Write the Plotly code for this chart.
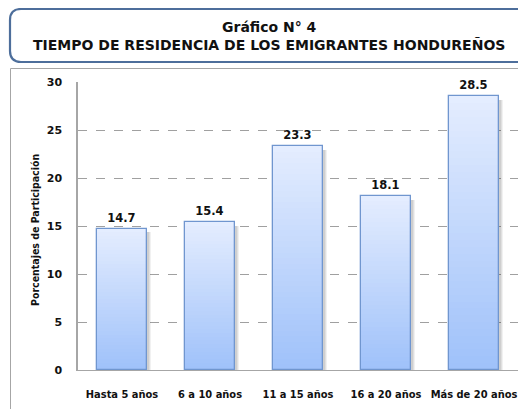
import plotly.graph_objects as go

categories = ["Hasta 5 años", "6 a 10 años", "11 a 15 años", "16 a 20 años", "Más de 20 años"]
values = [14.7, 15.4, 23.3, 18.1, 28.5]
value_labels = ["14.7", "15.4", "23.3", "18.1", "28.5"]
y_ticks = [0, 5, 10, 15, 20, 25, 30]

# page body has an 8px margin, so the figure is drawn 8px smaller
W, H = 518, 401
ML, MR, MT, MB = 70, 8, 74, 39
PW, PH = W - ML - MR, H - MT - MB

def px2x(p):
    return (p - ML) / PW

def px2y(p):
    return (H - MB - p) / PH

BW = 0.57
fig = go.Figure()

# soft shadow
for dx, a in [(0.05, 0.07), (0.035, 0.09), (0.02, 0.1)]:
    fig.add_trace(go.Bar(
        x=categories, y=[v - 0.35 for v in values], width=BW, offset=-BW / 2 + dx,
        marker=dict(color="rgba(60,60,60,%s)" % a, line=dict(width=0)),
        hoverinfo="skip", showlegend=False))

# gradient via overlay layers (light at top, darker at bottom)
top = (228, 237, 255)
bot = (160, 194, 250)
N = 40
for k in range(N):
    frac = 1 - k / N
    t = k / (N - 1)
    c = tuple(int(top[i] + (bot[i] - top[i]) * t) for i in range(3))
    fig.add_trace(go.Bar(
        x=categories, y=[v * frac for v in values], width=BW, offset=-BW / 2,
        marker=dict(color="rgb(%d,%d,%d)" % c, line=dict(width=0)),
        hoverinfo="skip", showlegend=False))

# outline + labels
fig.add_trace(go.Bar(
    x=categories, y=values, width=BW, offset=-BW / 2,
    marker=dict(color="rgba(0,0,0,0)", line=dict(color="#7096cf", width=1.3)),
    text=value_labels, textposition="outside", cliponaxis=False,
    textfont=dict(family="DejaVu Sans", size=11.5, color="#111111", weight="bold"),
    showlegend=False))

# rounded title box
x0, x1 = px2x(2), px2x(540)
y0, y1 = px2y(1), px2y(54)
rx, ry = 11 / PW, 11 / PH
path = (f"M {x0+rx},{y0} L {x1},{y0} L {x1},{y1} L {x0+rx},{y1} "
        f"Q {x0},{y1} {x0},{y1+ry} L {x0},{y0-ry} Q {x0},{y0} {x0+rx},{y0} Z")

fig.update_layout(
    width=W, height=H,
    margin=dict(l=ML, r=MR, t=MT, b=MB),
    paper_bgcolor="white", plot_bgcolor="white",
    barmode="overlay", bargap=0,
    font=dict(family="DejaVu Sans", color="#111111"),
    shapes=[
        dict(type="path", xref="paper", yref="paper", path=path,
             line=dict(color="#4d6e9b", width=2.2), fillcolor="white", layer="below"),
        dict(type="rect", xref="paper", yref="paper",
             x0=px2x(2.5), x1=px2x(560), y0=px2y(60.5), y1=px2y(430),
             line=dict(color="#a6a6a6", width=1), layer="below"),
    ],
    annotations=[
        dict(text="<b>Gráfico N° 4</b><br><b>TIEMPO DE RESIDENCIA DE LOS EMIGRANTES HONDUREÑOS</b>",
             xref="paper", yref="paper", x=px2x(261), y=px2y(28),
             xanchor="center", yanchor="middle", showarrow=False,
             font=dict(family="DejaVu Sans", size=14, color="#111111")),
        dict(text="<b>Porcentajes de Participación</b>", textangle=-90,
             xref="paper", yref="paper", x=px2x(27), y=px2y(222),
             xanchor="center", yanchor="middle", showarrow=False,
             font=dict(family="DejaVu Sans Condensed", size=10.5, color="#111111")),
    ],
    xaxis=dict(showgrid=False, showline=True, linecolor="#a6a6a6", linewidth=1,
               ticks="", ticklabelstandoff=14,
               tickfont=dict(family="DejaVu Sans Condensed", size=11, color="#111111", weight="bold")),
    yaxis=dict(range=[0, 30], tickvals=y_ticks, showgrid=True, gridcolor="#a0a0a0",
               griddash="dash", gridwidth=1, zeroline=False, showline=True,
               linecolor="#a6a6a6", linewidth=1.5, ticks="", ticklabelstandoff=12,
               tickfont=dict(family="DejaVu Sans", size=11, color="#111111", weight="bold")),
)

fig.write_html("out.html")
